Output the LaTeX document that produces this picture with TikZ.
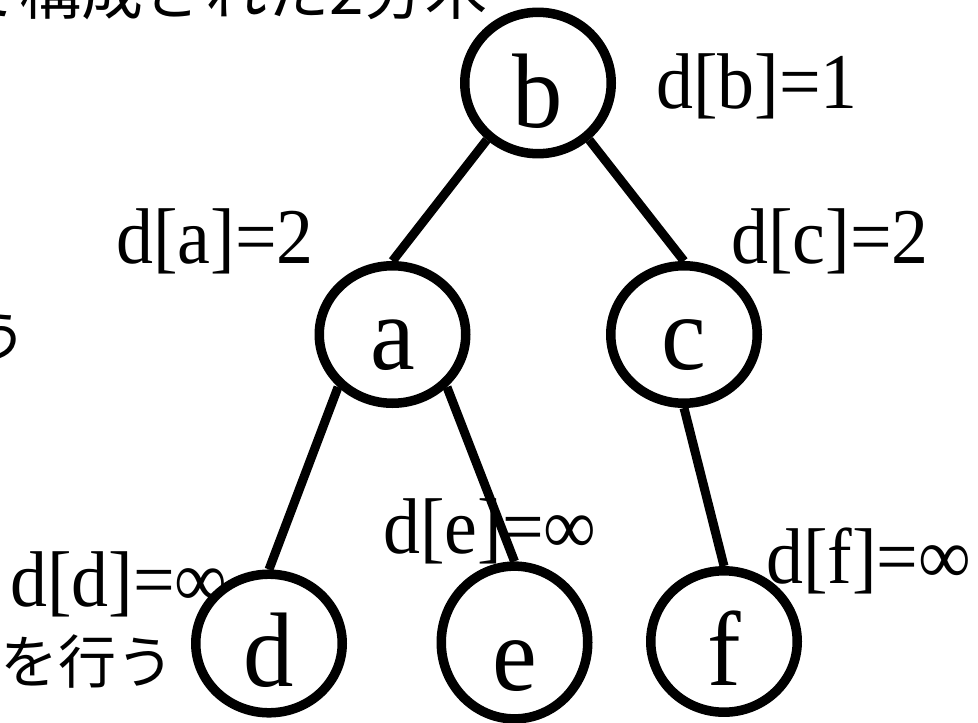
\documentclass[tikz,border=0pt]{standalone}
\usepackage{fontspec}
\setmainfont{Liberation Serif}
\newfontfamily\nodefont[FakeStretch=0.95]{Liberation Serif}
\newfontfamily\lblfont[FakeStretch=0.935]{Liberation Serif}
\newfontfamily\jpfont{Noto Sans CJK JP}
\usetikzlibrary{shapes.geometric}
\begin{document}
\begin{tikzpicture}[x=1pt,y=-1pt,
  treenode/.style={draw, ellipse, line width=9.5pt, minimum width=146.5pt,
    minimum height=137.5pt, inner sep=0pt,
    font=\nodefont\fontsize{106}{110}\selectfont, text depth=6pt},
  edge/.style={line width=9pt},
  dlabel/.style={anchor=base west, inner sep=0pt, font=\lblfont\fontsize{79}{84}\selectfont},
  jptext/.style={anchor=base west, inner sep=0pt, font=\jpfont\fontsize{58}{62}\selectfont}]
\useasboundingbox (0,0) rectangle (978,723);
\clip (0,0) rectangle (978,723);

% Japanese text (partly outside the frame)
\node[jptext, font=\jpfont\fontsize{62}{66}\selectfont] (t1) at (-43,14) {で構成された2分木};
\node[jptext] (t2) at (-31,358) {う};
\node[jptext] (t3) at (-58,683) {新を行う};

% tree nodes
\node[treenode, text height=94pt] (b) at (538,83) {b};
\node[treenode, text height=76pt] (a) at (392.5,334.5) {a};
\node[treenode, text height=76pt] (c) at (684,334.5) {c};
\node[treenode, text height=92pt] (d) at (269,643.5) {d};
\node[treenode, text height=102pt] (e) at (514.5,642.5) {e};
\node[treenode, text height=94pt] (f) at (724,641.5) {f};

% edges
\draw[edge] (b.228) -- (a.north);
\draw[edge] (b.312) -- (c.north);
\draw[edge] (a.224) -- (d.north);
\draw[edge] (a.316) -- (e.north);
\draw[edge] (c.south) -- (f.north);

% labels
\node[dlabel] (lb) at (656,108) {d[b]=1};
\node[dlabel] (la) at (116,263) {d[a]=2};
\node[dlabel] (lc) at (731,263) {d[c]=2};
\node[dlabel] (ld) at (10,606) {d[d]=∞};
\node[dlabel] (le) at (383,553) {d[e]=∞};
\node[dlabel] (lf) at (766,583) {d[f]=∞};
\end{tikzpicture}
\end{document}
